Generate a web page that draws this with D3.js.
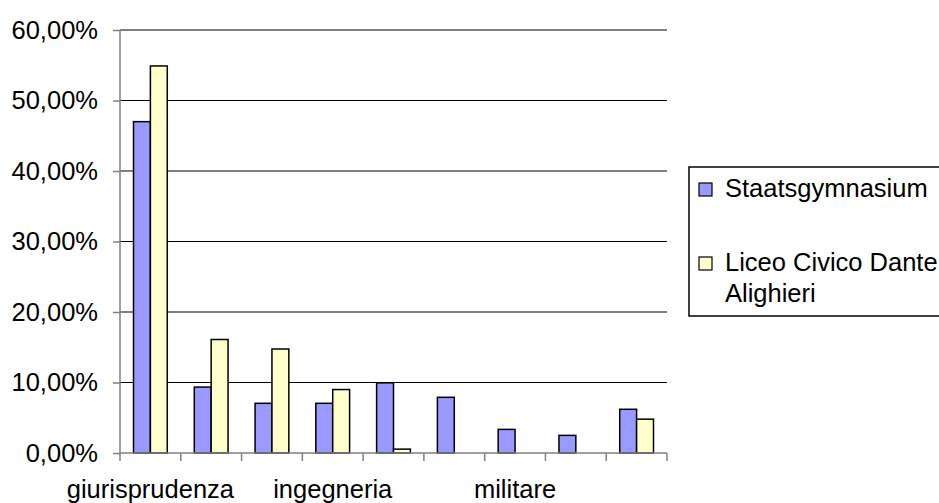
<!DOCTYPE html>
<html>
<head>
<meta charset="utf-8">
<script src="https://cdn.jsdelivr.net/npm/d3@7"></script>
<style>
  body { margin: 0; background: #fff; }
  text { font-family: "Liberation Sans", Arial, sans-serif; }
</style>
</head>
<body>
<div id="chart"></div>
<script>
// category labels (only every third one is printed on the axis)
const categories = ["giurisprudenza", "", "", "ingegneria", "", "", "militare", "", ""];
const staats = [47.0, 9.35, 7.05, 7.05, 9.95, 7.9, 3.35, 2.5, 6.2];
const liceo = [54.9, 16.1, 14.75, 9.0, 0.55, 0, 0, 0, 4.8];
const seriesNames = ["Staatsgymnasium", "Liceo Civico Dante Alighieri"];
const seriesColors = ["#9999ff", "#ffffcc"];
const yTicks = [0, 10, 20, 30, 40, 50, 60];

const margin = { top: 30, right: 272, bottom: 50, left: 120 };
const W = 939, H = 503;
const w = W - margin.left - margin.right;
const h = H - margin.top - margin.bottom;
const fs = 25.5;

const svg = d3.select("#chart").append("svg")
    .attr("width", W)
    .attr("height", H);

const g = svg.append("g")
    .attr("transform", `translate(${margin.left},${margin.top})`);

const x = d3.scaleBand()
    .domain(d3.range(categories.length))
    .range([0, w])
    .paddingInner(0)
    .paddingOuter(0);

const xInner = d3.scaleBand()
    .domain([0, 1])
    .range([0, x.bandwidth()])
    .paddingOuter(0.8)
    .paddingInner(0);

const y = d3.scaleLinear()
    .domain([0, 60])
    .range([h, 0]);

// gridlines
g.selectAll(".grid")
    .data(yTicks.slice(1))
    .enter().append("line")
    .attr("x1", 0)
    .attr("x2", w)
    .attr("y1", d => y(d))
    .attr("y2", d => y(d))
    .attr("stroke", "#000")
    .attr("stroke-width", 1);

// bars
const rows = categories.map((c, i) => ({ i: i, vals: [staats[i], liceo[i]] }));

const grp = g.selectAll(".grp")
    .data(rows)
    .enter().append("g")
    .attr("transform", d => `translate(${x(d.i)},0)`);

grp.selectAll("rect")
    .data(d => d.vals.map((v, k) => ({ k: k, v: v })).filter(e => e.v > 0))
    .enter().append("rect")
    .attr("x", d => xInner(d.k))
    .attr("y", d => y(d.v))
    .attr("width", xInner.bandwidth())
    .attr("height", d => h - y(d.v))
    .attr("fill", d => seriesColors[d.k])
    .attr("stroke", "#000")
    .attr("stroke-width", 1.5);

// y axis
const yAxis = g.append("g")
    .call(d3.axisLeft(y).tickValues(yTicks).tickSize(7).tickPadding(15)
        .tickFormat(d => d.toFixed(2).replace(".", ",") + "%"));
yAxis.select(".domain").attr("stroke", "#808080").attr("stroke-width", 1.5).attr("d", `M0,${h}V0`);
yAxis.selectAll(".tick line").attr("stroke", "#808080").attr("stroke-width", 1.5);
yAxis.selectAll(".tick text").attr("font-size", fs).attr("fill", "#000")
    .attr("font-family", "Liberation Sans, Arial, sans-serif");

// x axis
const xAxis = g.append("g")
    .attr("transform", `translate(0,${h})`)
    .call(d3.axisBottom(x).tickSize(0).tickPadding(27).tickFormat(i => categories[i]));
xAxis.select(".domain").attr("stroke", "#808080").attr("stroke-width", 1.5).attr("d", `M0,0H${w}`);
xAxis.selectAll(".tick text").attr("font-size", fs).attr("fill", "#000")
    .attr("font-family", "Liberation Sans, Arial, sans-serif");

// x tick marks on band boundaries
g.selectAll(".xtick")
    .data(d3.range(categories.length + 1))
    .enter().append("line")
    .attr("x1", i => i * x.step())
    .attr("x2", i => i * x.step())
    .attr("y1", h)
    .attr("y2", h + 8)
    .attr("stroke", "#808080")
    .attr("stroke-width", 1.5);

// legend
const lg = svg.append("g").attr("transform", "translate(689,167)");
lg.append("rect")
    .attr("x", 0).attr("y", 0)
    .attr("width", 270).attr("height", 149)
    .attr("fill", "#fff")
    .attr("stroke", "#000")
    .attr("stroke-width", 1.5);

const legendLines = [["Staatsgymnasium"], ["Liceo Civico Dante", "Alighieri"]];
legendLines.forEach((lines, k) => {
    const top = 16 + k * 74;
    lg.append("rect")
        .attr("x", 10).attr("y", top)
        .attr("width", 13).attr("height", 13)
        .attr("fill", seriesColors[k])
        .attr("stroke", "#000")
        .attr("stroke-width", 1.2);
    lines.forEach((t, j) => {
        lg.append("text")
            .attr("x", 36)
            .attr("y", top + 14 + j * 31)
            .attr("font-size", fs)
            .text(t);
    });
});
</script>
</body>
</html>
